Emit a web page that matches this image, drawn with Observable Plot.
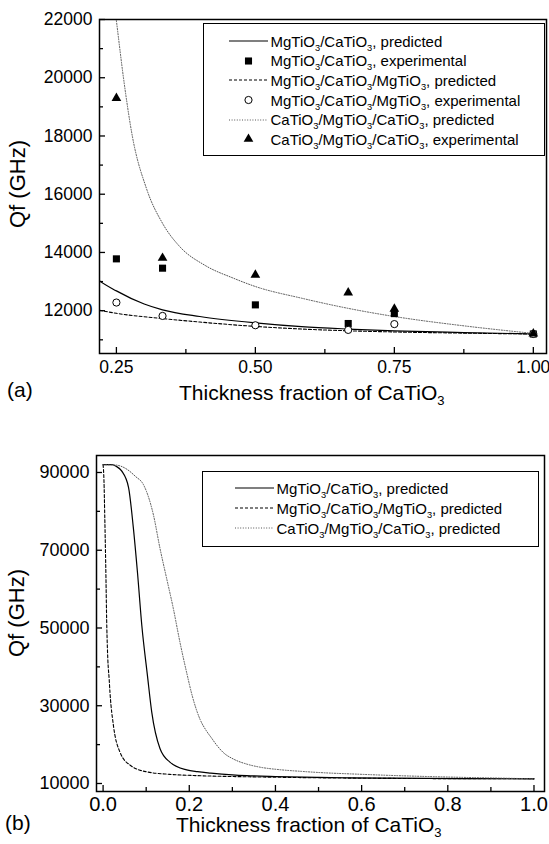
<!DOCTYPE html>
<html><head><meta charset="utf-8">
<script src="https://cdn.jsdelivr.net/npm/d3@7"></script>
<script src="https://cdn.jsdelivr.net/npm/@observablehq/plot@0.6"></script>
<style>
body{margin:0;background:#fff;font-family:"Liberation Sans",Arial,sans-serif;color:#000}
#wrap{position:relative;width:549px;height:844px;overflow:hidden;background:#fff}
.abs{position:absolute;white-space:nowrap;line-height:22px}
sub{font-size:0.62em;vertical-align:-0.38em;line-height:0}
.legend{position:absolute;border:1.5px solid #000;box-sizing:border-box;background:#fff}
.row{position:absolute;height:20px;display:flex;align-items:center;font-size:15px;white-space:nowrap}
.row svg{flex:none;margin-right:3px}
</style></head>
<body><div id="wrap"></div>
<script>
// ---------- data ----------
// experimental (panel a)
const expX   = [0.25, 0.333, 0.5, 0.667, 0.75, 1.0];
const mcExp  = [13780, 13460, 12200, 11560, 11900, 11200];
const mcmExp = [12280, 11820, 11500, 11340, 11540, 11200];
const cmcExp = [19300, 13810, 13230, 12620, 12060, 11210];

// predicted MgTiO3/CaTiO3
const mcPredX = [0, 0.02, 0.03, 0.043, 0.059, 0.07, 0.08, 0.09, 0.103, 0.113, 0.132, 0.155, 0.194, 0.219, 0.25, 0.3, 0.333, 0.4, 0.5, 0.583, 0.667, 0.75, 0.875, 1.0];
const mcPredY = [92000, 92000, 91600, 90400, 86200, 76000, 64000, 50500, 37700, 28300, 19000, 15500, 13500, 13040, 12680, 12230, 12030, 11800, 11580, 11450, 11370, 11310, 11250, 11200];
// predicted MgTiO3/CaTiO3/MgTiO3
const mcmPredX = [0, 0.002, 0.004, 0.006, 0.0086, 0.011, 0.014, 0.016, 0.024, 0.039, 0.063, 0.101, 0.155, 0.219, 0.25, 0.333, 0.4, 0.5, 0.583, 0.667, 0.75, 0.875, 1.0];
const mcmPredY = [92000, 88000, 78000, 67000, 50400, 41900, 37000, 33400, 24900, 18100, 14700, 13000, 12350, 12020, 11910, 11730, 11610, 11460, 11370, 11310, 11270, 11230, 11200];
// predicted CaTiO3/MgTiO3/CaTiO3
const cmcPredX = [0, 0.03, 0.055, 0.075, 0.094, 0.117, 0.132, 0.148, 0.163, 0.179, 0.194, 0.207, 0.225, 0.24, 0.251, 0.2627, 0.2786, 0.304, 0.333, 0.364, 0.41, 0.46, 0.5, 0.583, 0.667, 0.75, 0.875, 1.0];
const cmcPredY = [92000, 91900, 90850, 89000, 86800, 79000, 70500, 62500, 55000, 46000, 38500, 32500, 26500, 23500, 21800, 20000, 18000, 16200, 15000, 14200, 13550, 13120, 12830, 12430, 12080, 11800, 11480, 11220];

// ticks
const aXMajor = [0.25, 0.5, 0.75, 1.0];
const aXMinor = [0.375, 0.625, 0.875];
const aYMajor = [12000, 14000, 16000, 18000, 20000, 22000];
const aYMinor = [11000, 13000, 15000, 17000, 19000, 21000];
const bXMajor = [0, 0.2, 0.4, 0.6, 0.8, 1.0];
const bXMinor = [0.1, 0.3, 0.5, 0.7, 0.9];
const bYMajor = [10000, 30000, 50000, 70000, 90000];
const bYMinor = [20000, 40000, 60000, 80000];

const rows = (xs, ys) => xs.map((x, i) => ({x, y: ys[i]}));
const mcPred = rows(mcPredX, mcPredY), mcmPred = rows(mcmPredX, mcmPredY), cmcPred = rows(cmcPredX, cmcPredY);

const FONT = '"Liberation Sans", Arial, sans-serif';
function ticks(xMaj, xMin, yMaj, yMin, innerW, innerH) {
  const s = {stroke: "black", strokeWidth: 1.3};
  return [
    Plot.tickX(xMaj, {x: d => d, insetTop: innerH - 6, ...s}),
    Plot.tickX(xMin, {x: d => d, insetTop: innerH - 4, ...s}),
    Plot.tickY(yMaj, {y: d => d, insetRight: innerW - 6, ...s}),
    Plot.tickY(yMin, {y: d => d, insetRight: innerW - 4, ...s})
  ];
}
const lineStyles = {
  solid: {stroke: "black", strokeWidth: 1.2},
  dash: {stroke: "black", strokeWidth: 1.1, strokeDasharray: "3,2"},
  dot: {stroke: "#555", strokeWidth: 1, strokeDasharray: "1,1.6"}
};

// ---------- panel (a) ----------
const aW = 549, aH = 410, aML = 99, aMR = 3, aMT = 19, aMB = 57;
const plotA = Plot.plot({
  width: aW, height: aH, marginLeft: aML, marginRight: aMR, marginTop: aMT, marginBottom: aMB,
  style: {fontFamily: FONT, color: "black", background: "white", overflow: "visible"},
  x: {domain: [0.2196, 1.0237]},
  y: {domain: [10530, 22000]},
  marks: [
    Plot.line(mcPred, {x: "x", y: "y", curve: "monotone-x", clip: true, ...lineStyles.solid}),
    Plot.line(mcmPred, {x: "x", y: "y", curve: "monotone-x", clip: true, ...lineStyles.dash}),
    Plot.line(cmcPred, {x: "x", y: "y", curve: "monotone-x", clip: true, ...lineStyles.dot}),
    Plot.dot(rows(expX, mcExp), {x: "x", y: "y", symbol: "square", fill: "black", r: 4}),
    Plot.dot(rows(expX, mcmExp), {x: "x", y: "y", symbol: "circle", fill: "white", stroke: "black", strokeWidth: 1, r: 3.6}),
    Plot.dot(rows(expX, cmcExp), {x: "x", y: "y", symbol: "triangle", fill: "black", r: 3.6}),
    ...ticks(aXMajor, aXMinor, aYMajor, aYMinor, aW - aML - aMR, aH - aMT - aMB),
    Plot.frame({stroke: "black", strokeWidth: 1.5}),
    Plot.axisX({ticks: aXMajor, tickSize: 0, tickPadding: 7, tickFormat: d3.format(".2f"), fontSize: 17.5, label: null}),
    Plot.axisY({ticks: aYMajor, tickSize: 0, tickPadding: 7, tickFormat: d => String(d), fontSize: 17.5, label: null})
  ]
});

// ---------- panel (b) ----------
const bW = 549, bH = 434, bML = 96, bMR = 5, bMT = 45, bMB = 53;
const plotB = Plot.plot({
  width: bW, height: bH, marginLeft: bML, marginRight: bMR, marginTop: bMT, marginBottom: bMB,
  style: {fontFamily: FONT, color: "black", background: "white", overflow: "visible"},
  x: {domain: [-0.0153, 1.0244]},
  y: {domain: [7940, 94370]},
  marks: [
    Plot.line(mcPred, {x: "x", y: "y", curve: "monotone-x", clip: true, ...lineStyles.solid}),
    Plot.line(mcmPred, {x: "x", y: "y", curve: "monotone-x", clip: true, ...lineStyles.dash}),
    Plot.line(cmcPred, {x: "x", y: "y", curve: "monotone-x", clip: true, ...lineStyles.dot}),
    ...ticks(bXMajor, bXMinor, bYMajor, bYMinor, bW - bML - bMR, bH - bMT - bMB),
    Plot.frame({stroke: "black", strokeWidth: 1.5}),
    Plot.axisX({ticks: bXMajor, tickSize: 0, tickPadding: 5, tickFormat: d3.format(".1f"), fontSize: 20, label: null}),
    Plot.axisY({ticks: bYMajor, tickSize: 0, tickPadding: 7, tickFormat: d => String(d), fontSize: 18, label: null})
  ]
});

// ---------- layout ----------
const wrap = document.getElementById("wrap");
function place(el, left, top) { el.style.position = "absolute"; el.style.left = left + "px"; el.style.top = top + "px"; wrap.appendChild(el); }
place(plotA, 0, 0);
place(plotB, 0, 410);

function text(html, left, top, size, extra) {
  const d = document.createElement("div");
  d.className = "abs"; d.innerHTML = html; d.style.fontSize = size + "px";
  d.style.left = left + "px"; d.style.top = top + "px";
  if (extra) Object.assign(d.style, extra);
  wrap.appendChild(d); return d;
}
const xTitle = "Thickness fraction of CaTiO<sub>3</sub>";
text(xTitle, 179, 382, 21);
text(xTitle, 176, 814, 21);
text("(a)", 7, 379, 21);
text("(b)", 5, 812, 21);
text("Qf (GHz)", 17.5, 183.5, 22, {transform: "translate(-50%,-50%) rotate(-90deg)"});
text("Qf (GHz)", 17, 613, 22, {transform: "translate(-50%,-50%) rotate(-90deg)"});

// legends
const S = "MgTiO<sub>3</sub>/CaTiO<sub>3</sub>";
const M3 = "MgTiO<sub>3</sub>/CaTiO<sub>3</sub>/MgTiO<sub>3</sub>";
const C3 = "CaTiO<sub>3</sub>/MgTiO<sub>3</sub>/CaTiO<sub>3</sub>";
function swatch(kind) {
  const ns = "http://www.w3.org/2000/svg";
  const svg = document.createElementNS(ns, "svg");
  svg.setAttribute("width", 39); svg.setAttribute("height", 12);
  if (kind in lineStyles) {
    const l = document.createElementNS(ns, "line");
    const st = lineStyles[kind];
    l.setAttribute("x1", 0); l.setAttribute("x2", 39); l.setAttribute("y1", 6); l.setAttribute("y2", 6);
    l.setAttribute("stroke", st.stroke); l.setAttribute("stroke-width", st.strokeWidth);
    if (st.strokeDasharray) l.setAttribute("stroke-dasharray", st.strokeDasharray);
    svg.appendChild(l);
  } else {
    const p = document.createElementNS(ns, "path");
    const sym = {square: d3.symbolSquare, circle: d3.symbolCircle, triangle: d3.symbolTriangle}[kind];
    const r = kind === "square" ? 4 : 3.6;
    p.setAttribute("d", d3.symbol(sym, Math.PI * r * r)());
    p.setAttribute("transform", "translate(19.5,6)");
    p.setAttribute("fill", kind === "circle" ? "white" : "black");
    p.setAttribute("stroke", kind === "circle" ? "black" : "none");
    svg.appendChild(p);
  }
  return svg;
}
function legend(left, top, width, height, swLeft, firstCenter, step, entries) {
  const box = document.createElement("div");
  box.className = "legend";
  Object.assign(box.style, {left: left + "px", top: top + "px", width: width + "px", height: height + "px"});
  entries.forEach(([kind, label], i) => {
    const r = document.createElement("div");
    r.className = "row";
    r.style.left = swLeft + "px";
    r.style.top = (firstCenter + i * step - 10) + "px";
    r.appendChild(swatch(kind));
    const t = document.createElement("span"); t.innerHTML = label; r.appendChild(t);
    box.appendChild(r);
  });
  wrap.appendChild(box);
}
legend(203, 23, 342, 133, 24.5, 17.2, 19.6, [
  ["solid", S + ", predicted"],
  ["square", S + ", experimental"],
  ["dash", M3 + ", predicted"],
  ["circle", M3 + ", experimental"],
  ["dot", C3 + ", predicted"],
  ["triangle", C3 + ", experimental"]
]);
legend(202, 471, 337, 76, 31.5, 16, 20, [
  ["solid", S + ", predicted"],
  ["dash", M3 + ", predicted"],
  ["dot", C3 + ", predicted"]
]);
</script></body></html>
